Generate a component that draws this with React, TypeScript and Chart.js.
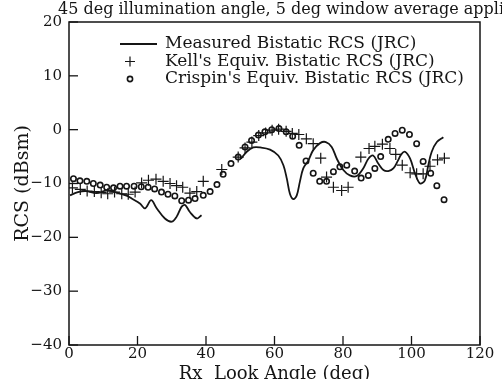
import React, { useEffect, useRef } from "react";
import { Chart, registerables } from "chart.js";

Chart.register(...registerables);

const titleText = "45 deg illumination angle, 5 deg window average applied";
const xTitle = "Rx  Look Angle (deg)";
const yTitle = "RCS (dBsm)";
const legendLabels = [
  "Measured Bistatic RCS (JRC)",
  "Kell's Equiv. Bistatic RCS (JRC)",
  "Crispin's Equiv. Bistatic RCS (JRC)",
];
const xTicks = [0, 20, 40, 60, 80, 100, 120];
const yTicks = [-40, -30, -20, -10, 0, 10, 20];

const measuredX = [
  0.3, 2.6, 5, 8, 11, 14, 17, 18.3, 20.7, 22.2, 24, 25.6, 28, 30, 31.4, 32.9, 33.9, 35.3, 37.3, 38.7,
  44,
  50.2, 51.9, 53.8, 55.8, 58.7, 61.1, 62.6, 63.6, 64.5, 65.5, 66.5, 67.4, 68.4, 69.9, 71.3, 73.3, 75.0,
  76.7, 78.2, 80.1, 82.0, 84.0, 85.9, 87.4, 88.8, 90.3, 91.8, 93.2, 94.7, 96.0, 97.0, 98.1, 99.6, 101.0,
  102.5, 103.9, 104.9, 105.9, 107.4, 109.3,
];
const measuredY = [
  -12.2, -11.6, -11.4, -11.8, -11.3, -11.7, -12.3, -12.8, -13.7, -14.6, -13.1, -14.6, -16.5, -17.1, -16.2,
  -14.3, -14.0, -15.3, -16.5, -15.9,
  null,
  -5.4, -4.1, -3.3, -3.3, -3.7, -4.8, -6.6, -9.1, -11.9, -12.9, -12.2, -9.7, -7.2, -5.7, -3.8, -2.5, -2.3,
  -3.2, -5.4, -7.5, -8.5, -8.6, -7.2, -5.4, -4.8, -6.3, -7.5, -7.7, -7.2, -5.8, -4.6, -4.1, -5.4, -8.1,
  -10.0, -9.4, -6.6, -4.1, -2.3, -1.4,
];

const kellX = [
  1.0, 3.3, 5.3, 7.4, 9.4, 11.3, 13.3, 15.4, 17.3, 19.3, 21.2, 23.2, 25.4, 27.5, 29.5, 31.4, 33.2, 35.3,
  37.3, 39.2, 44.6, 49.4, 51.4, 53.4, 55.4, 57.4, 59.3, 61.2, 63.4, 65.2, 67.1, 69.3, 71.3, 73.5, 75.2,
  77.2, 79.6, 81.5, 85.2, 87.6, 89.3, 91.5, 93.7, 95.4, 97.3, 99.6, 101.5, 103.4, 105.4, 107.6, 109.6,
];
const kellY = [
  -10.8, -11.1, -11.4, -11.5, -11.7, -11.9, -11.6, -11.9, -12.0, -11.6, -9.9, -9.4, -9.2, -9.6, -10.0,
  -10.4, -10.7, -11.8, -11.5, -9.6, -7.4, -5.1, -3.4, -2.3, -1.1, -0.6, -0.1, 0.1, -0.3, -0.7, -0.9, -1.7,
  -2.6, -5.3, -8.8, -10.7, -11.3, -10.7, -5.1, -3.5, -3.1, -2.7, -3.5, -4.6, -6.6, -8.0, -8.2, -8.2, -6.8,
  -5.6, -5.3,
];

const crispinX = [
  1.3, 3.2, 5.2, 7.1, 9.1, 11.0, 13.0, 14.9, 16.8, 19.0, 21.1, 23.1, 25.0, 27.0, 28.9, 30.9, 32.9, 34.9,
  36.8, 39.2, 41.2, 43.2, 45.0, 47.3, 49.4, 51.4, 53.3, 55.3, 57.2, 59.2, 61.3, 63.4, 65.3, 67.2, 69.2,
  71.3, 73.2, 75.2, 77.2, 79.1, 81.1, 83.4, 85.3, 87.4, 89.3, 91.0, 93.2, 95.2, 97.3, 99.4, 101.5, 103.4,
  105.6, 107.4, 109.5,
];
const crispinY = [
  -9.1, -9.5, -9.6, -10.0, -10.3, -10.7, -10.8, -10.5, -10.5, -10.5, -10.6, -10.7, -11.0, -11.6, -12.0,
  -12.3, -13.2, -13.1, -12.8, -12.2, -11.5, -10.2, -8.3, -6.3, -5.1, -3.2, -2.0, -1.0, -0.4, 0.0, 0.2,
  -0.4, -1.2, -2.9, -5.8, -8.1, -9.6, -9.6, -7.8, -6.9, -6.6, -7.7, -9.0, -8.5, -7.2, -5.0, -1.8, -0.7,
  -0.1, -0.9, -2.6, -5.9, -8.1, -10.4, -13.0,
];

const INK = "#151515";
const FONT = '"DejaVu Serif", serif';

const decoPlugin = {
  id: "deco",
  afterDatasetsDraw(chart: any) {
    const { ctx, chartArea, scales } = chart;
    const { left, right, top, bottom } = chartArea;
    const xs = scales.x;
    const ys = scales.y;
    ctx.save();
    ctx.strokeStyle = INK;
    ctx.lineWidth = 1.5;
    ctx.strokeRect(left, top, right - left, bottom - top);
    ctx.lineWidth = 1.3;
    xTicks.forEach((v) => {
      const px = xs.getPixelForValue(v);
      ctx.beginPath();
      ctx.moveTo(px, bottom);
      ctx.lineTo(px, bottom - 9);
      ctx.stroke();
    });
    yTicks.forEach((v) => {
      const py = ys.getPixelForValue(v);
      ctx.beginPath();
      ctx.moveTo(left, py);
      ctx.lineTo(left + 9, py);
      ctx.stroke();
    });

    // title (cut at the right edge, as in the reference)
    ctx.fillStyle = INK;
    ctx.font = `16px ${FONT}`;
    ctx.textAlign = "left";
    ctx.textBaseline = "alphabetic";
    ctx.fillText(titleText, 58, 14);

    // legend inside the plot
    ctx.font = `17px ${FONT}`;
    ctx.textBaseline = "middle";
    const rows = [top + 22, top + 39.5, top + 57];
    const symX = left + 61;
    const textX = left + 96;
    // line sample
    ctx.lineWidth = 1.8;
    ctx.beginPath();
    ctx.moveTo(left + 51, rows[0]);
    ctx.lineTo(left + 88, rows[0]);
    ctx.stroke();
    // cross sample
    ctx.lineWidth = 1.2;
    ctx.beginPath();
    ctx.moveTo(symX - 5, rows[1]);
    ctx.lineTo(symX + 5, rows[1]);
    ctx.moveTo(symX, rows[1] - 5);
    ctx.lineTo(symX, rows[1] + 5);
    ctx.stroke();
    // circle sample
    ctx.lineWidth = 1.6;
    ctx.beginPath();
    ctx.arc(symX, rows[2], 2.6, 0, Math.PI * 2);
    ctx.stroke();
    legendLabels.forEach((t, i) => ctx.fillText(t, textX, rows[i]));
    ctx.restore();
  },
};

export default function App() {
  const ref = useRef<HTMLCanvasElement | null>(null);

  useEffect(() => {
    if (!ref.current) return;
    const chart = new Chart(ref.current, {
      type: "scatter",
      data: {
        datasets: [
          {
            label: legendLabels[0],
            data: measuredX.map((x, i) => ({ x, y: measuredY[i] })) as any,
            showLine: true,
            borderColor: INK,
            borderWidth: 1.8,
            pointRadius: 0,
            tension: 0.35,
            spanGaps: false,
          },
          {
            label: legendLabels[1],
            data: kellX.map((x, i) => ({ x, y: kellY[i] })),
            pointStyle: "cross",
            pointRadius: 5.5,
            borderWidth: 1.2,
            borderColor: INK,
            backgroundColor: INK,
          },
          {
            label: legendLabels[2],
            data: crispinX.map((x, i) => ({ x, y: crispinY[i] })),
            pointStyle: "circle",
            pointRadius: 2.7,
            borderWidth: 1.6,
            borderColor: INK,
            backgroundColor: "rgba(255,255,255,0)",
          },
        ],
      },
      options: {
        animation: false,
        responsive: false,
        devicePixelRatio: 1,
        layout: { padding: { left: 0, top: 22, right: 22, bottom: 0 } },
        plugins: {
          legend: { display: false },
          title: { display: false },
          tooltip: { enabled: false },
        },
        scales: {
          x: {
            type: "linear",
            min: 0,
            max: 120,
            grid: { display: false, drawTicks: false },
            border: { display: false },
            ticks: {
              stepSize: 20,
              padding: 0,
              color: INK,
              font: { family: FONT, size: 15 },
              maxRotation: 0,
            },
            title: {
              display: true,
              text: xTitle,
              color: INK,
              font: { family: FONT, size: 18 },
              padding: { top: 0, bottom: -6 },
            },
            afterFit: (s: any) => {
              s.height = 34;
            },
          },
          y: {
            type: "linear",
            min: -40,
            max: 20,
            grid: { display: false, drawTicks: false },
            border: { display: false },
            ticks: {
              stepSize: 10,
              padding: 7,
              color: INK,
              font: { family: FONT, size: 15 },
              callback: (v: any) => String(v).replace("-", "\u2212"),
            },
            title: {
              display: true,
              text: yTitle,
              color: INK,
              font: { family: FONT, size: 19 },
              padding: { top: 12, bottom: 0 },
            },
            afterFit: (s: any) => {
              s.width = 69;
            },
          },
        },
      },
      plugins: [decoPlugin],
    });
    return () => chart.destroy();
  }, []);

  return (
    <div style={{ position: "fixed", left: 0, top: 0, width: 502, height: 379, background: "#fff" }}>
      <canvas ref={ref} width={502} height={379} style={{ width: 502, height: 379, display: "block" }} />
    </div>
  );
}
